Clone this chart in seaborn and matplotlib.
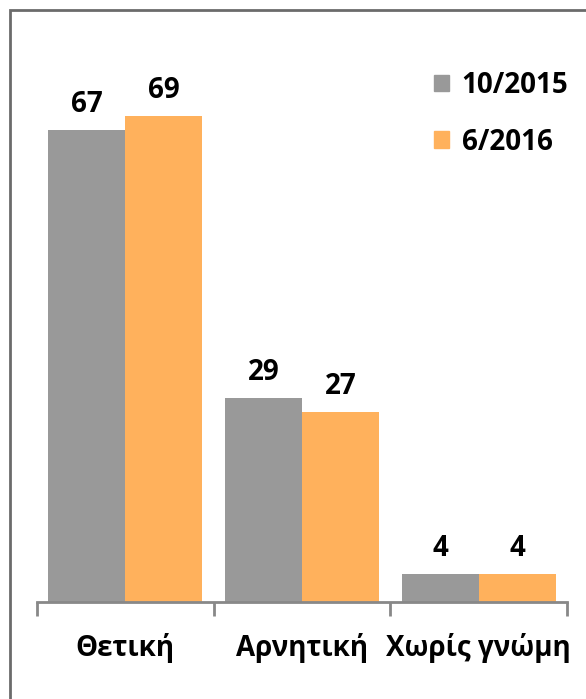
import pandas as pd
import matplotlib.pyplot as plt
import matplotlib.patches as mpatches
import seaborn as sns

# data
categories = ['Θετική', 'Αρνητική', 'Χωρίς γνώμη']
series = ['10/2015', '6/2016']
values_2015 = [67, 29, 4]
values_2016 = [69, 27, 4]

df = pd.DataFrame({
    'category': categories * 2,
    'series': [series[0]] * 3 + [series[1]] * 3,
    'value': values_2015 + values_2016,
})

sns.set_style('white')
plt.rcParams['font.family'] = ['Open Sans', 'Noto Sans', 'DejaVu Sans']
plt.rcParams['font.weight'] = 'bold'
plt.rcParams['text.color'] = 'black'
plt.rcParams['xtick.color'] = 'black'

colors = ['#999999', '#FFB15C']
fs = 20

fig = plt.figure(figsize=(5.86, 6.99), dpi=100)
ax = fig.add_axes([37 / 586, 97 / 699, 530 / 586, 563 / 699])

sns.barplot(data=df, x='category', y='value', hue='series', palette=colors,
            width=0.87, saturation=1, linewidth=0, ax=ax, legend=False)

for cont in ax.containers:
    ax.bar_label(cont, padding=8, fontsize=fs, fontweight='bold', color='black')

ax.set_ylim(0, 80)
ax.set_xlim(-0.5, 2.5)
ax.set_xlabel('')
ax.set_ylabel('')
ax.set_yticks([])

# category labels without marks, boundary ticks as minor ticks
ax.set_xticks(range(3))
ax.set_xticklabels(categories, fontsize=fs, fontweight='bold', color='black')
ax.tick_params(axis='x', which='major', length=0, pad=22)
ax.set_xticks([-0.5, 0.5, 1.5, 2.5], minor=True)
ax.tick_params(axis='x', which='minor', length=10, width=2, color='#888888',
               direction='out', bottom=True)

for s in ['left', 'right', 'top']:
    ax.spines[s].set_visible(False)
ax.spines['bottom'].set_color('#888888')
ax.spines['bottom'].set_linewidth(2)

# legend
handles = [mpatches.Patch(color=c, label=s) for c, s in zip(colors, series)]
leg = fig.legend(handles=handles, loc='upper left', bbox_to_anchor=(420 / 586, 1 - 57 / 699),
                 frameon=False, fontsize=fs, handlelength=0.55, handleheight=0.55,
                 handletextpad=0.45, labelspacing=1.0, borderpad=0)
for t in leg.get_texts():
    t.set_fontweight('bold')
    t.set_color('black')

# outer border (only top and left visible)
fig.patches.append(mpatches.Rectangle((10 / 586, -0.1), 1.2, 1.1 - 10 / 699,
                                      transform=fig.transFigure, fill=False,
                                      edgecolor='#6b6b6b', linewidth=2, zorder=0))

fig.savefig('out.png', dpi=100)
